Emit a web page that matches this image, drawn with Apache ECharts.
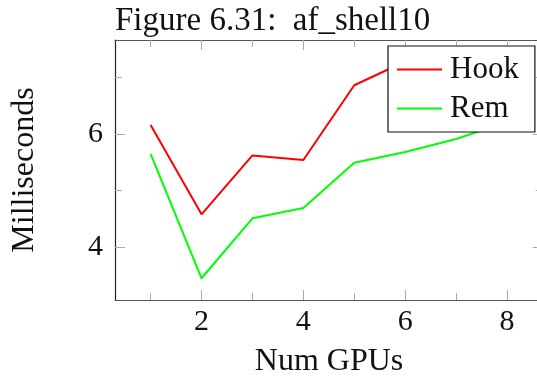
<!DOCTYPE html>
<html>
<head>
<meta charset="utf-8">
<script src="https://cdn.jsdelivr.net/npm/echarts@6/dist/echarts.min.js"></script>
<style>
  html, body { margin: 0; padding: 0; background: #fff; }
  #chart { width: 537px; height: 383px; }
</style>
</head>
<body>
<div id="chart"></div>
<script>
// Run time of af_shell10 by number of GPUs
const gpus = [1, 2, 3, 4, 5, 6, 7, 8];
const hookMs = [6.16, 4.58, 5.62, 5.54, 6.86, 7.28, 7.18, 7.26];
const remMs = [5.65, 3.45, 4.51, 4.69, 5.49, 5.68, 5.91, 6.21];
const xMajorTicks = [2, 4, 6, 8];
const xMinorTicks = [1, 3, 5, 7];
const yMajorTicks = [4, 6];
const yMinorTicks = [5, 7];

const FONT = '"Liberation Serif", "Times New Roman", serif';
// The plot frame runs a little past the right edge of the canvas,
// so the visible x range stops just short of 8.7.
const X_MIN = 0.3, X_MAX = 8.59, Y_MIN = 3.066, Y_MAX = 7.66;

function pairs(xs, ys) { return xs.map((x, i) => [x, ys[i]]); }

function xAxisDef(position, ticks, len, showLine, showLabels, name) {
  return {
    type: 'value', position: position, min: X_MIN, max: X_MAX,
    splitLine: { show: false },
    axisLine: { show: showLine, onZero: false, lineStyle: { color: '#555', width: 1.2 } },
    axisTick: { show: true, inside: true, length: len, customValues: ticks,
                lineStyle: { color: '#aaa', width: 1 } },
    axisLabel: showLabels
      ? { show: true, customValues: ticks, fontFamily: FONT, fontSize: 30, color: '#111', margin: 7 }
      : { show: false },
    name: name || '', nameLocation: 'middle', nameGap: 46,
    nameTextStyle: { fontFamily: FONT, fontSize: 32, color: '#111', padding: [0, 0, 0, 6] }
  };
}

function yAxisDef(position, ticks, len, showLine, showLabels, name) {
  return {
    type: 'value', position: position, min: Y_MIN, max: Y_MAX,
    splitLine: { show: false },
    axisLine: { show: showLine, onZero: false, lineStyle: { color: '#222', width: 1.2 } },
    axisTick: { show: true, inside: true, length: len, customValues: ticks,
                lineStyle: { color: '#aaa', width: 1 } },
    axisLabel: showLabels
      ? { show: true, customValues: ticks, fontFamily: FONT, fontSize: 30, color: '#111', margin: 12 }
      : { show: false },
    name: name || '', nameLocation: 'middle', nameGap: 74,
    nameTextStyle: { fontFamily: FONT, fontSize: 32, color: '#111' }
  };
}

const chart = echarts.init(document.getElementById('chart'), null, { renderer: 'canvas' });
chart.setOption({
  animation: false,
  backgroundColor: '#fff',
  title: {
    text: 'Figure 6.31:  af_shell10',
    left: 110, top: 0,
    textStyle: { fontFamily: FONT, fontSize: 33, fontWeight: 'normal', color: '#111' }
  },
  grid: { left: 115, top: 40, right: 0, bottom: 80.3, containLabel: false },
  xAxis: [
    xAxisDef('bottom', xMajorTicks, 10, true, true, 'Num GPUs'),
    xAxisDef('bottom', xMinorTicks, 7, false, false),
    xAxisDef('top', xMajorTicks, 10, true, false),
    xAxisDef('top', xMinorTicks, 7, false, false)
  ],
  yAxis: [
    yAxisDef('left', yMajorTicks, 10, true, true, 'Milliseconds'),
    yAxisDef('left', yMinorTicks, 7, false, false),
    yAxisDef('right', yMajorTicks, 4.4, false, false),
    yAxisDef('right', yMinorTicks, 1.4, false, false)
  ],
  legend: {
    orient: 'vertical',
    left: 388, top: 46,
    padding: [8, 16, 8, 9],
    itemGap: 8,
    itemWidth: 45, itemHeight: 2,
    icon: 'rect',
    backgroundColor: '#fff',
    borderColor: '#111', borderWidth: 1.2,
    textStyle: { fontFamily: FONT, fontSize: 31, color: '#111', lineHeight: 30, padding: [0, 0, 0, 3] },
    data: ['Hook', 'Rem']
  },
  series: [
    { name: 'Hook', type: 'line', data: pairs(gpus, hookMs), symbol: 'none',
      color: '#ff0000', lineStyle: { color: '#ff0000', width: 2 }, z: 3 },
    { name: 'Rem', type: 'line', data: pairs(gpus, remMs), symbol: 'none',
      color: '#00ff00', lineStyle: { color: '#00ff00', width: 2 }, z: 3 }
  ]
});
</script>
</body>
</html>
